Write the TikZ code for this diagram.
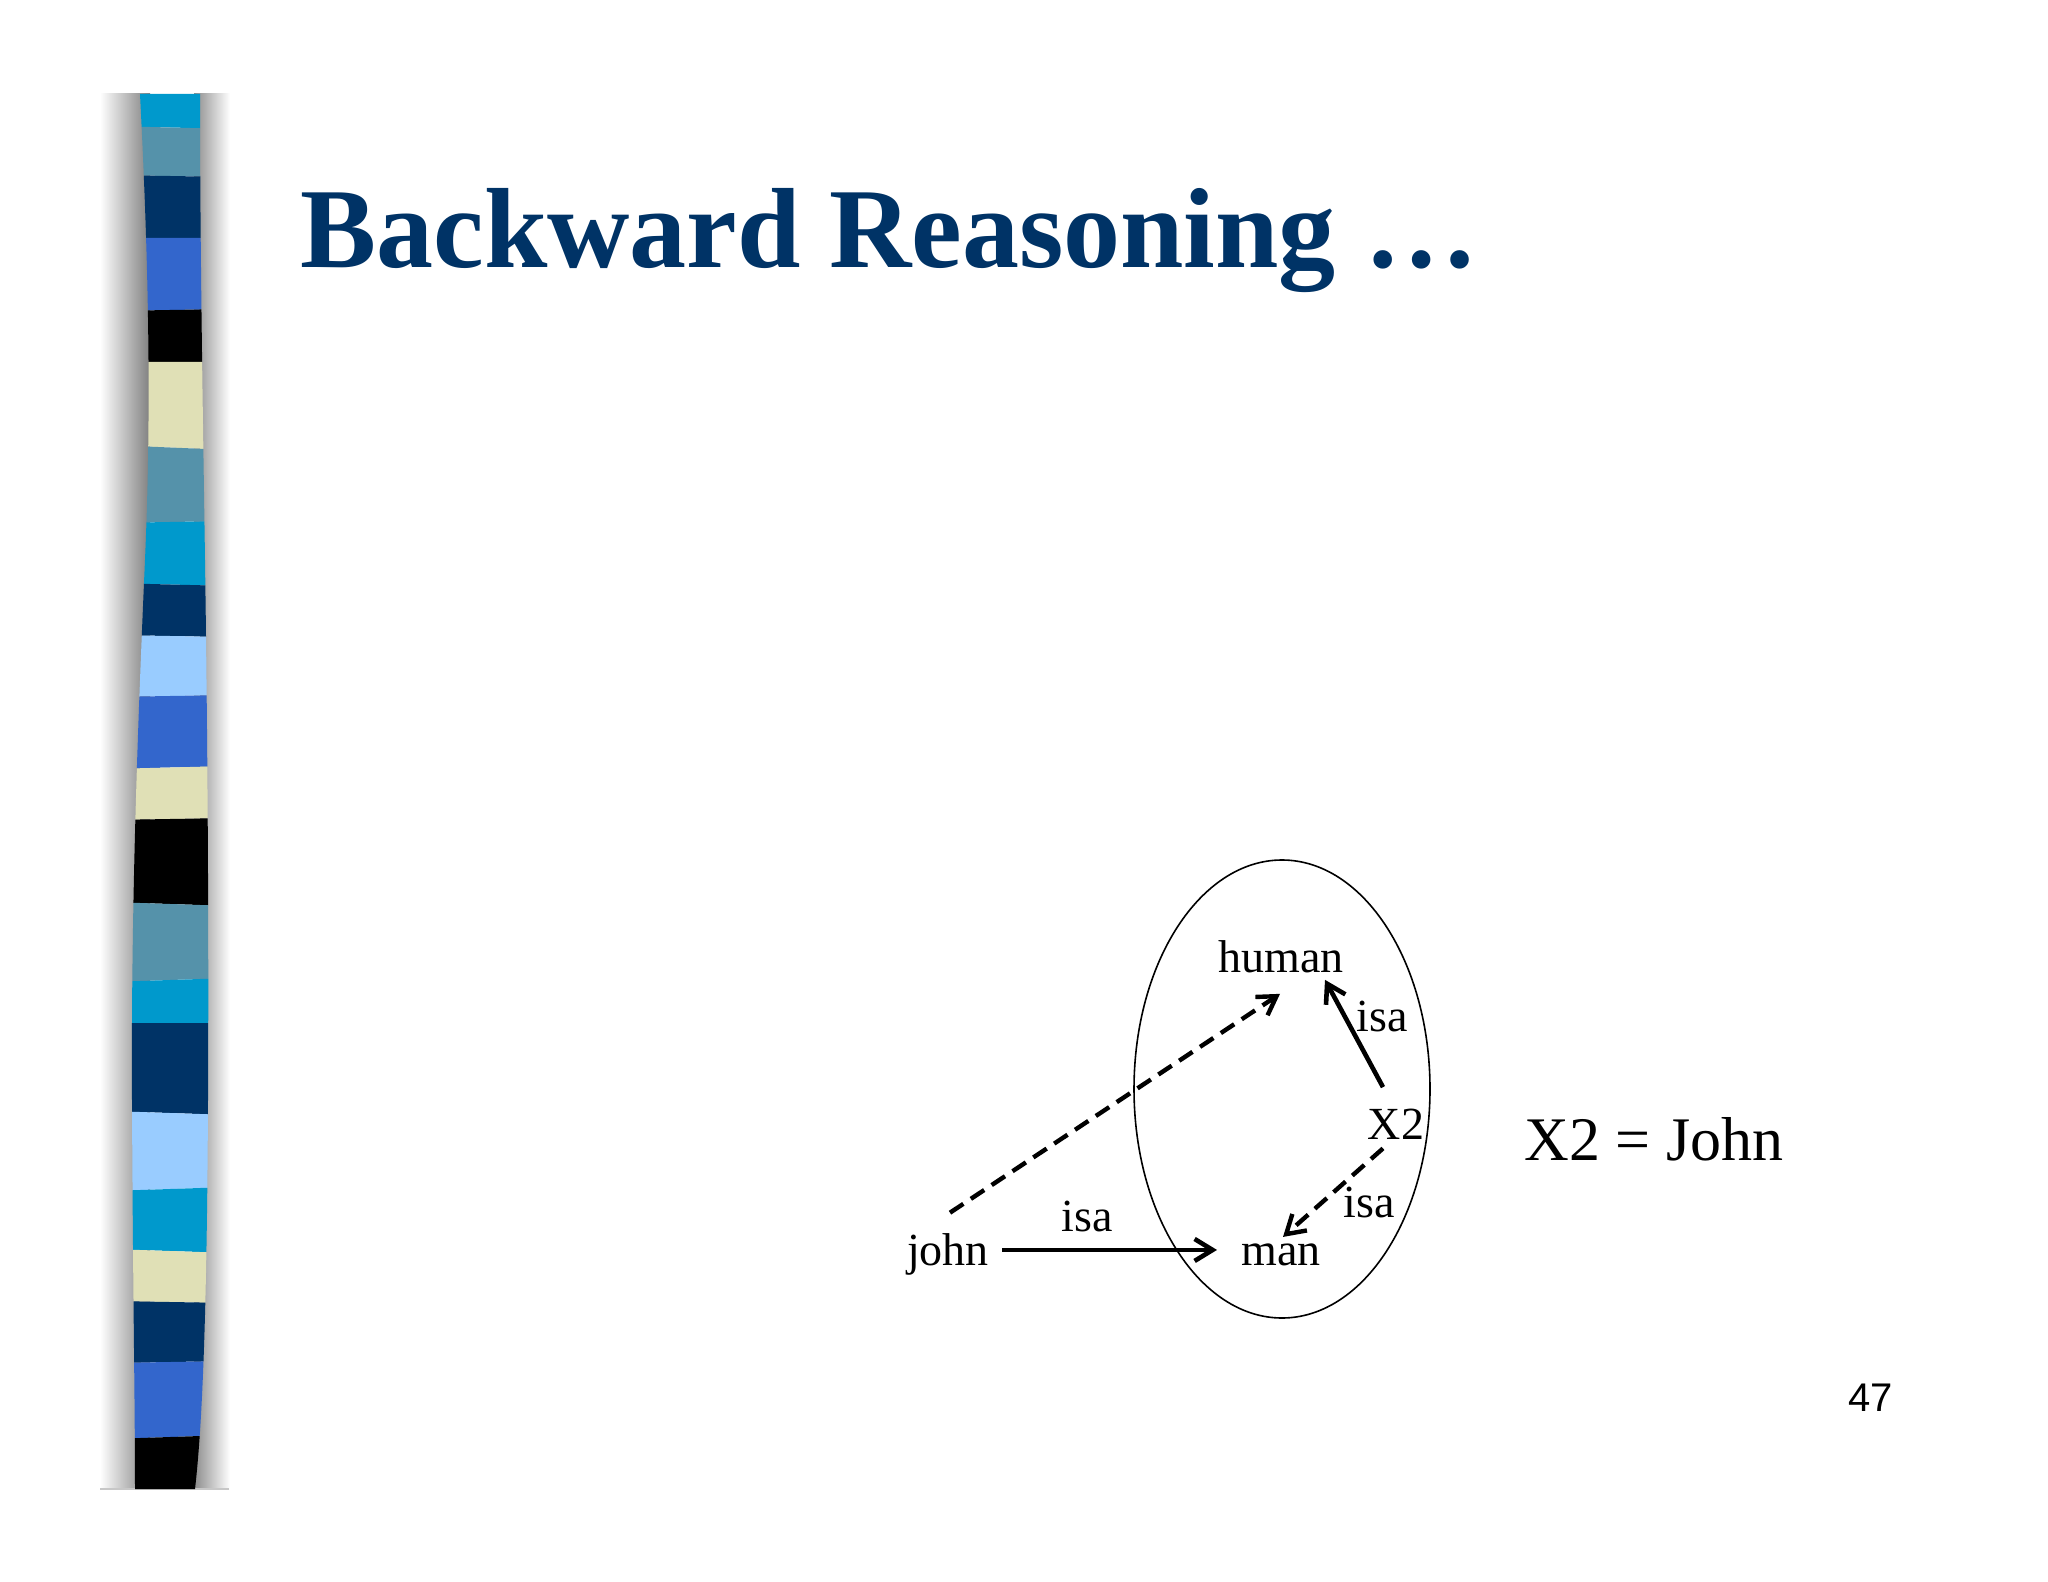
\documentclass[tikz,border=0pt]{standalone}
\usepackage{fontspec}
\setmainfont{Liberation Serif}
\newfontfamily\arialf{Liberation Sans}
\usetikzlibrary{arrows.meta,shapes.geometric}
\definecolor{cCyan}{HTML}{0099CC}
\definecolor{cSteel}{HTML}{5592AA}
\definecolor{cNavy}{HTML}{003366}
\definecolor{cRoyal}{HTML}{3366CC}
\definecolor{cBeige}{HTML}{E0E0B6}
\definecolor{cLight}{HTML}{99CCFF}
\definecolor{cTitle}{HTML}{003366}
\newcommand{\bandfill}[5]{\fill[#1] (110,#2) -- (230,#3) -- (230,#5) -- (110,#4) -- cycle;}
\begin{document}
\begin{tikzpicture}[x=0.5pt,y=-0.5pt,
  lbl/.style={anchor=base,inner sep=0pt,font=\fontsize{23}{27}\selectfont},
  solidarrow/.style={line width=2.3pt,-{Straight Barb[length=9pt,width=11pt]}},
  dasharrow/.style={line width=2.2pt,dash pattern=on 8pt off 4.5pt,-{Straight Barb[length=9pt,width=11pt]}},
  groupring/.style={draw,ellipse,line width=0.8pt,inner sep=0pt,minimum width=148pt,minimum height=229pt}]
\useasboundingbox (0,0) rectangle (2048,1582);
\fill[white] (0,0) rectangle (2048,1582);
% shadows of the stripe
\shade[left color=white,right color=black!50] (100,94) rectangle (150,1489);
\shade[left color=black!45,right color=white] (194,94) rectangle (230,1489);
\draw[black!22,line width=1pt] (100,1489) -- (229,1489);
% stripe
\begin{scope}
\clip (140,94) .. controls (148,250) and (152,400) .. (145,560)
  .. controls (138,720) and (131,900) .. (132,1100)
  .. controls (133,1300) and (135,1400) .. (135,1489)
  -- (195,1489) .. controls (203,1420) and (207,1300) .. (208,1100)
  .. controls (209,900) and (207,700) .. (205,560)
  .. controls (203,420) and (200,250) .. (200,94) -- cycle;
\bandfill{cCyan}{90}{90}{126}{129}
\bandfill{cSteel}{126}{129}{175}{177}
\bandfill{cNavy}{175}{177}{238}{238}
\bandfill{cRoyal}{238}{238}{311}{309}
\bandfill{black}{311}{309}{362}{362}
\bandfill{cBeige}{362}{362}{445}{450}
\bandfill{cSteel}{445}{450}{523}{521}
\bandfill{cCyan}{523}{521}{583}{586}
\bandfill{cNavy}{583}{586}{635}{637}
\bandfill{cLight}{635}{637}{697}{695}
\bandfill{cRoyal}{697}{695}{769}{766}
\bandfill{cBeige}{769}{766}{820}{818}
\bandfill{black}{820}{818}{902}{906}
\bandfill{cSteel}{902}{906}{982}{978}
\bandfill{cCyan}{982}{978}{1023}{1023}
\bandfill{cNavy}{1023}{1023}{1111}{1115}
\bandfill{cLight}{1111}{1115}{1191}{1187}
\bandfill{cCyan}{1191}{1187}{1249}{1253}
\bandfill{cBeige}{1249}{1253}{1301}{1303}
\bandfill{cNavy}{1301}{1303}{1363}{1361}
\bandfill{cRoyal}{1363}{1361}{1439}{1435}
\bandfill{black}{1439}{1435}{1500}{1500}
\end{scope}
% title
\node[anchor=base west,inner sep=0pt,text=cTitle,font=\fontsize{57}{60}\selectfont\bfseries] (title) at (300,268) {Backward Reasoning …};
% diagram
\node[groupring] (ring) at (1282,1089) {};
\node[lbl] (human) at (1281,972) {human};
\node[lbl] (john) at (948,1265) {john};
\node[lbl] (man) at (1281,1265) {man};
\node[lbl] (x2) at (1396,1139) {X2};
\node[lbl] (isa1) at (1087,1231) {isa};
\node[lbl] (isa2) at (1382,1031) {isa};
\node[lbl] (isa3) at (1369,1217) {isa};
\draw[solidarrow] ([shift={(0,-4)}]john.east) -- ([shift={(0,-4)}]john.east -| man.west) [shorten <=6.5pt, shorten >=12pt];
\draw[dasharrow] ([shift={(2,-20)}]john.north) -- ([shift={(-1,21)}]human.south);
\draw[solidarrow] ([shift={(-13,-21)}]x2.north) -- ([shift={(-19,7)}]human.south east);
\draw[dasharrow] ([shift={(-13,9)}]x2.south) -- ([shift={(2,-6)}]man.north);
\node[anchor=base west,inner sep=0pt,font=\fontsize{31}{36}\selectfont] (eq) at (1524,1160) {X2 = John};
\node[anchor=base west,inner sep=0pt,font=\arialf\fontsize{20}{24}\selectfont] (pnum) at (1848,1411) {47};
\end{tikzpicture}
\end{document}
